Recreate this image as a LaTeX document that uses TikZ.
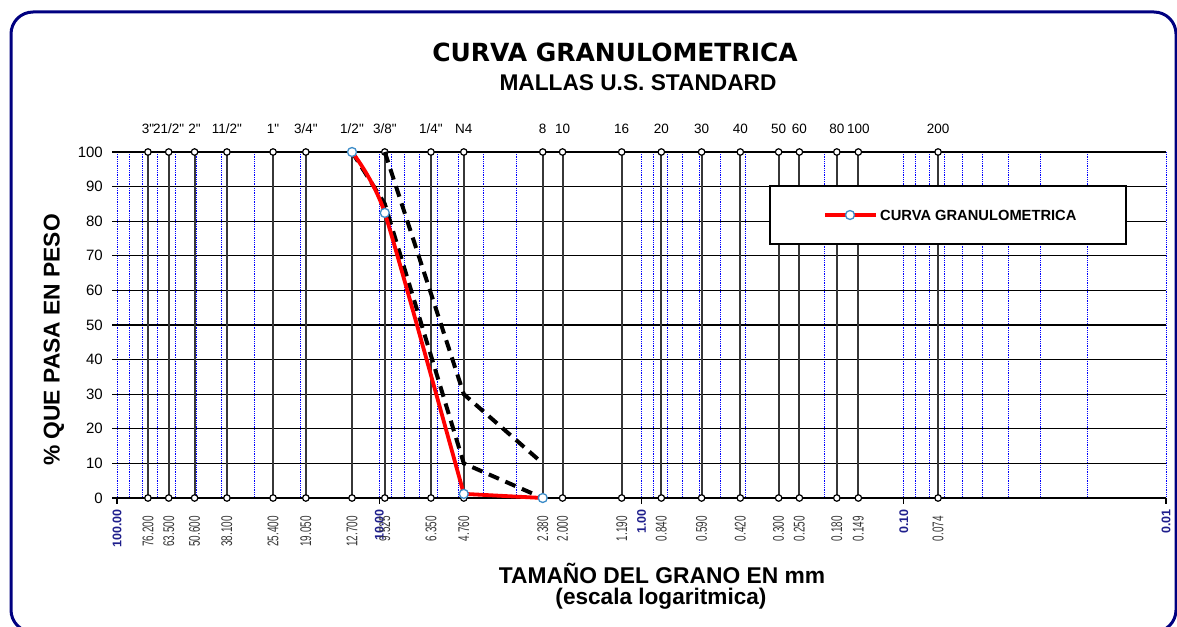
\documentclass[tikz,border=0pt]{standalone}
\usepackage{fontspec}
\setmainfont{Liberation Sans}
\newfontfamily\titlefont{DejaVu Sans}
\newfontfamily\labfont[Ligatures=TeXOff]{Liberation Sans}
\newfontfamily\narrowfont[FakeStretch=0.64]{Liberation Sans}
\usetikzlibrary{positioning}

\definecolor{framecol}{RGB}{0,0,128}
\definecolor{axisblue}{RGB}{30,30,140}
\definecolor{markblue}{RGB}{60,140,200}
\definecolor{sievegray}{RGB}{55,55,55}

\tikzstyle{grid line} = [draw, line width=1.2pt, black]
\tikzstyle{minor line} = [draw, line width=0.8pt, blue, densely dotted]
\tikzstyle{sieve line} = [draw, line width=2pt, sievegray]
\tikzstyle{sieve}=[circle, draw=black, fill=white, line width=1.2pt, minimum size=6.5pt, inner sep=0pt]
\tikzstyle{marker}=[circle, draw=markblue, fill=white, line width=1.3pt, minimum size=9pt, inner sep=0pt]
\tikzstyle{curve} = [draw, line width=3.8pt, red]
\tikzstyle{limit} = [draw, line width=4pt, black, dash pattern=on 11pt off 7pt]
\tikzstyle{toplab} = [anchor=base, inner sep=0pt, font=\labfont\fontsize{13.5}{14}\selectfont]
\tikzstyle{botlab} = [rotate=90, anchor=east, inner sep=0pt, text=sievegray, font=\narrowfont\fontsize{15.5}{16}\selectfont]
\tikzstyle{declab} = [rotate=90, anchor=east, inner sep=0pt, text=axisblue, font=\bfseries\fontsize{12.5}{13}\selectfont]
\tikzstyle{ylab} = [anchor=east, inner sep=0pt, font=\fontsize{15}{15}\selectfont]

\begin{document}
\begin{tikzpicture}[x=1pt, y=-1pt,
    declare function={xp(\s)=117+262.25*log10(100/\s); yp(\p)=498-3.46*\p;}]
  \useasboundingbox (0,0) rectangle (1177,626);
  \draw[framecol, line width=3pt, rounded corners=22pt] (11,12) rectangle (1176,632);

  % titles
  \node[font=\titlefont\bfseries\fontsize{25}{25}\selectfont] (title) at (615,52) {CURVA GRANULOMETRICA};
  \node[font=\bfseries\fontsize{22.7}{23}\selectfont] (subtitle) at (638,83) {MALLAS U.S. STANDARD};

  % log grid
  \path[minor line] (117,152) -- (117,498);
  \foreach \k in {0,...,3} {
      \foreach \m in {1,...,9} {
          \path[minor line] ({117+262.25*(\k+1-log10(\m))},152) -- ({117+262.25*(\k+1-log10(\m))},498);
      }
  }
  \foreach \p in {0,10,...,100} {
      \path[grid line] (117,{yp(\p)}) -- (1166,{yp(\p)});
      \path[grid line] (112,{yp(\p)}) -- (117,{yp(\p)});
      \node[ylab] (y\p) at (103,{yp(\p)}) {\p};
  }
  \foreach \k/\lab in {0/100.00, 1/10.00, 2/1.00, 3/0.10, 4/0.01} {
      \path[grid line] ({117+262.25*\k},498) -- ({117+262.25*\k},504);
      \node[declab] (dec\k) at ({117+262.25*\k},509) {\lab};
  }

  % sieves
  \foreach \sz/\mm/\lab [count=\i] in {76.2/76.200/{3"}, 63.5/63.500/{21/2"}, 50.6/50.600/{2"},
      38.1/38.100/{11/2"}, 25.4/25.400/{1"}, 19.05/19.050/{3/4"}, 12.7/12.700/{1/2"},
      9.525/9.525/{3/8"}, 6.35/6.350/{1/4"}, 4.76/4.760/{N4}, 2.38/2.380/{8}, 2.0/2.000/{10},
      1.19/1.190/{16}, 0.84/0.840/{20}, 0.59/0.590/{30}, 0.42/0.420/{40}, 0.30/0.300/{50},
      0.25/0.250/{60}, 0.18/0.180/{80}, 0.149/0.149/{100}, 0.074/0.074/{200}} {
      \coordinate (top\i) at ({xp(\sz)},152);
      \coordinate (bot\i) at ({xp(\sz)},498);
      \path[sieve line] (top\i) -- (bot\i);
      \node[sieve] at (top\i) {};
      \node[sieve] at (bot\i) {};
      \node[toplab] (lab\i) at ({xp(\sz)},133) {\lab};
      \node[botlab] (mm\i) at ({xp(\sz)},516) {\mm};
  }

  % legend
  \node[draw, line width=1.4pt, fill=white, minimum width=356pt, minimum height=58pt] (legend) at (948,215) {};
  \coordinate (legA) at (825,215);
  \coordinate (legB) at (876,215);
  \path[curve] (legA) -- (legB);
  \node[marker] (legmark) at (850,215) {};
  \node[anchor=west, inner sep=0pt, font=\bfseries\fontsize{14.7}{15}\selectfont] (legtext) at (880,215) {CURVA GRANULOMETRICA};

  % limits
  \coordinate (u1) at ({xp(9.525)},{yp(100)});
  \coordinate (u2) at ({xp(4.76)},{yp(30)});
  \coordinate (u3) at ({xp(2.38)},{yp(10)});
  \coordinate (l1) at ({xp(12.7)},{yp(100)});
  \coordinate (l2) at ({xp(9.525)},{yp(85)});
  \coordinate (l3) at ({xp(4.76)},{yp(10)});
  \coordinate (l4) at ({xp(2.38)},{yp(0)});
  \path[limit] (u1) -- (u2) -- (u3);
  \path[limit] (l1) -- (l2) -- (l3) -- (l4);

  % curve
  \coordinate (c1) at ({xp(12.7)},{yp(100)});
  \coordinate (c2) at ({xp(9.525)},{yp(82.4)});
  \coordinate (c3) at ({xp(4.76)},{yp(1.2)});
  \coordinate (c4) at ({xp(2.38)},{yp(0)});
  \path[curve] plot[smooth, tension=0.35] coordinates {(c1) (c2) (c3)} -- (c4);
  \foreach \c in {c1,c2,c3,c4} {
      \node[marker] at (\c) {};
  }

  % axis titles
  \node[rotate=90, font=\bfseries\fontsize{22.8}{23}\selectfont] (ytitle) at (54,340) {\% QUE PASA EN PESO};
  \node[font=\bfseries\fontsize{22.8}{23}\selectfont] (xtitle) at (662,573) {TAMAÑO DEL GRANO EN mm};
  \node[font=\bfseries\fontsize{22.6}{23}\selectfont] (xnote) at (661,599) {(escala logaritmica)};
\end{tikzpicture}
\end{document}
